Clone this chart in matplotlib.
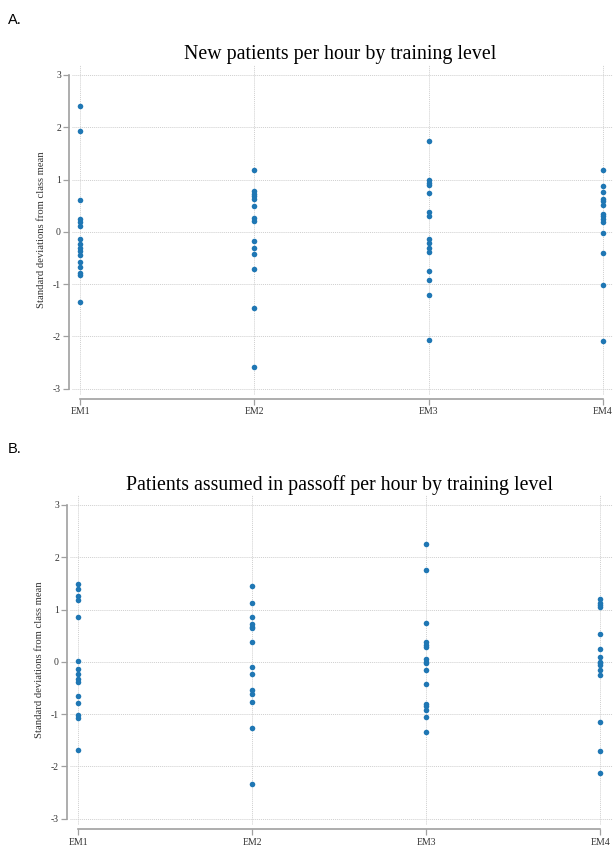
import numpy as np
import matplotlib
matplotlib.use("Agg")
import matplotlib.pyplot as plt

# Data (standard deviations from class mean)
levels = ["EM1", "EM2", "EM3", "EM4"]

new_em1 = [2.40, 1.93, 0.61, 0.24, 0.18, 0.12, -0.13, -0.24, -0.30, -0.36, -0.45, -0.58, -0.68, -0.78, -0.82, -1.35]
new_em2 = [1.19, 0.78, 0.73, 0.68, 0.63, 0.49, 0.27, 0.21, -0.17, -0.30, -0.43, -0.71, -1.46, -2.59]
new_em3 = [1.73, 0.99, 0.94, 0.89, 0.75, 0.37, 0.31, -0.14, -0.22, -0.30, -0.38, -0.75, -0.92, -1.21, -2.06]
new_em4 = [1.19, 0.87, 0.76, 0.63, 0.59, 0.51, 0.35, 0.30, 0.24, 0.19, -0.02, -0.40, -1.01, -2.09]

pass_em1 = [1.48, 1.39, 1.25, 1.19, 0.85, 0.02, -0.13, -0.23, -0.32, -0.39, -0.66, -0.79, -1.02, -1.07, -1.69]
pass_em2 = [1.45, 1.12, 0.85, 0.73, 0.67, 0.64, 0.37, -0.09, -0.24, -0.54, -0.61, -0.77, -1.27, -2.33]
pass_em3 = [2.25, 1.76, 0.74, 0.38, 0.33, 0.28, 0.06, 0.00, -0.02, -0.16, -0.43, -0.80, -0.85, -0.93, -1.06, -1.35]
pass_em4 = [1.20, 1.13, 1.08, 1.04, 0.53, 0.24, 0.10, 0.00, -0.03, -0.06, -0.16, -0.26, -1.16, -1.71, -2.13]

new_groups = [new_em1, new_em2, new_em3, new_em4]
pass_groups = [pass_em1, pass_em2, pass_em3, pass_em4]

# serif everywhere (Stata-like look), panel letters in sans
plt.rcParams['font.family'] = ['Liberation Serif', 'DejaVu Serif']

W, H = 613, 846
fig = plt.figure(figsize=(W / 100, H / 100), dpi=100)

dot_color = "#1f77b4"
grid_color = "#cfcfcf"
axis_color = "#a0a0a0"
text_color = "#333333"


def make_panel(box, groups, title, letter, letter_y, title_y, right_x):
    left, top, right, bottom = box
    ax = fig.add_axes([left / W, 1 - bottom / H, (right - left) / W, (bottom - top) / H])
    for i, vals in enumerate(groups):
        ax.scatter(np.full(len(vals), i), vals, s=16, color=dot_color, zorder=3, linewidths=0)
    ax.set_xlim(-0.046, right_x)
    ax.set_ylim(-3.12, 3.19)
    ax.set_xticks(range(len(levels)))
    ax.set_xticklabels(levels)
    ax.set_yticks(range(-3, 4))
    ax.set_yticklabels([str(v) for v in range(-3, 4)])
    ax.grid(True, color=grid_color, linestyle=(0, (1, 1)), linewidth=0.7)
    ax.set_axisbelow(True)
    for s in ["top", "right"]:
        ax.spines[s].set_visible(False)
    ax.spines["left"].set_position(("outward", 2))
    ax.spines["bottom"].set_position(("outward", 3))
    ax.spines["left"].set_bounds(-3, 3)
    ax.spines["bottom"].set_bounds(0, 3)
    for s in ["left", "bottom"]:
        ax.spines[s].set_color(axis_color)
        ax.spines[s].set_linewidth(1.2)
    ax.tick_params(axis="both", color=axis_color, length=4, width=0.9, pad=2,
                   labelsize=7, labelcolor=text_color)
    ax.set_ylabel("Standard deviations from class mean", fontsize=7.7, color=text_color, labelpad=5)
    fig.text(340 / W, 1 - title_y / H, title, ha="center", va="center", fontsize=14.3)
    fig.text(8 / W, 1 - letter_y / H, letter, ha="left", va="center", fontsize=10.5,
             family="Liberation Sans")
    return ax


make_panel((72, 65, 613, 395), new_groups, "New patients per hour by training level", "A.", 20, 55, 3.058)
make_panel((70, 495, 613, 825), pass_groups, "Patients assumed in passoff per hour by training level", "B.", 449, 485, 3.074)

plt.savefig("out.png", dpi=100)
